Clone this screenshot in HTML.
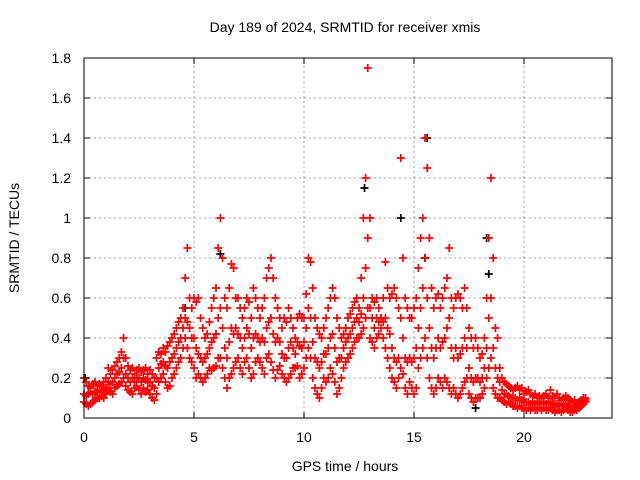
<!DOCTYPE html>
<html><head><meta charset="utf-8"><style>
body{margin:0;background:#fff}
svg{display:block;font-family:"Liberation Sans",sans-serif}
</style></head><body>
<svg id="chart" width="640" height="480">
<text x="345" y="32" text-anchor="middle" font-size="14">Day 189 of 2024, SRMTID for receiver xmis</text>
<text x="0" y="0" transform="translate(19,238) rotate(-90)" text-anchor="middle" font-size="14">SRMTID / TECUs</text>
<text x="345" y="471" text-anchor="middle" font-size="14">GPS time / hours</text>
<g id="grid"></g><g id="marks"></g><g id="axes"></g>
</svg>
<script>
const xTicks=[0,5,10,15,20];
const yTicks=[0,0.2,0.4,0.6,0.8,1,1.2,1.4,1.6,1.8];
const yTickLabels=["0","0.2","0.4","0.6","0.8","1","1.2","1.4","1.6","1.8"];
const step=0.1;
const loVals=[.08,.07,.06,.07,.08,.09,.1,.1,.11,.1,
.12,.14,.13,.12,.15,.16,.17,.18,.2,.16,
.14,.13,.12,.15,.16,.14,.12,.15,.13,.14,
.12,.1,.09,.12,.18,.2,.22,.18,.15,.16,
.2,.22,.25,.28,.3,.35,.4,.35,.3,.28,
.25,.2,.22,.2,.18,.2,.22,.25,.24,.25,
.26,.3,.3,.25,.2,.15,.2,.22,.25,.28,
.3,.25,.22,.28,.3,.25,.2,.22,.28,.3,
.28,.25,.22,.3,.32,.28,.24,.2,.24,.26,
.22,.2,.18,.2,.22,.25,.25,.26,.2,.22,
.25,.3,.35,.3,.2,.15,.12,.1,.15,.2,
.18,.2,.25,.22,.18,.12,.15,.2,.25,.28,
.3,.32,.35,.38,.4,.4,.42,.45,.5,.55,
.4,.38,.35,.4,.42,.45,.4,.35,.3,.25,
.2,.18,.15,.2,.25,.22,.15,.12,.18,.15,
.12,.15,.25,.3,.35,.4,.3,.2,.15,.12,
.15,.2,.18,.15,.2,.18,.15,.12,.15,.12,
.1,.12,.15,.18,.2,.12,.1,.08,.1,.1,
.1,.12,.15,.2,.25,.3,.15,.12,.1,.1,
.09,.08,.07,.08,.07,.06,.06,.05,.06,.05,
.05,.04,.05,.04,.05,.04,.04,.05,.04,.05,
.04,.04,.05,.04,.03,.04,.04,.03,.04,.05,
.04,.03,.03,.04,.04,.05,.06,.07,.08];
const midVals=[.12,.11,.12,.13,.12,.13,.13,.14,.13,.14,
.15,.18,.17,.18,.2,.22,.23,.25,.3,.22,
.2,.18,.2,.18,.2,.2,.18,.2,.19,.18,
.18,.16,.15,.2,.25,.27,.28,.26,.25,.28,
.3,.32,.35,.38,.4,.45,.5,.48,.45,.4,
.4,.35,.32,.3,.28,.3,.32,.35,.38,.4,
.42,.5,.55,.45,.35,.3,.38,.45,.42,.45,
.42,.4,.35,.4,.45,.42,.35,.4,.42,.4,
.38,.4,.38,.45,.48,.5,.42,.38,.4,.38,
.32,.3,.3,.35,.38,.35,.32,.38,.36,.35,
.38,.45,.55,.5,.38,.3,.28,.25,.28,.32,
.32,.35,.4,.42,.35,.28,.3,.3,.35,.38,
.4,.42,.45,.48,.5,.48,.52,.6,.75,.9,
.55,.5,.45,.5,.48,.5,.48,.5,.45,.42,
.35,.3,.28,.3,.5,.4,.3,.28,.3,.28,
.3,.35,.45,.55,.65,.8,.6,.45,.35,.3,
.35,.4,.35,.38,.4,.45,.5,.35,.3,.35,
.3,.32,.35,.4,.35,.25,.2,.18,.2,.2,
.18,.2,.25,.35,.5,.6,.35,.25,.2,.18,
.14,.12,.12,.11,.1,.1,.1,.09,.1,.09,
.08,.08,.08,.07,.08,.07,.07,.08,.07,.08,
.07,.07,.08,.07,.06,.07,.07,.06,.06,.07,
.06,.06,.05,.06,.06,.07,.08,.08,.09];
const hiVals=[.2,.18,.16,.15,.17,.18,.16,.17,.16,.18,
.2,.25,.22,.24,.26,.28,.3,.33,.4,.3,
.26,.24,.25,.22,.24,.25,.23,.24,.25,.22,
.24,.22,.2,.3,.33,.32,.35,.33,.36,.38,
.4,.42,.45,.48,.5,.55,.7,.85,.6,.55,
.6,.58,.6,.5,.45,.4,.42,.48,.55,.6,
.65,.85,1.0,.8,.6,.55,.65,.77,.75,.6,
.6,.55,.5,.55,.6,.58,.5,.65,.6,.55,
.5,.55,.6,.7,.75,.8,.7,.6,.55,.5,
.45,.5,.48,.55,.5,.45,.4,.5,.52,.5,
.5,.62,.8,.78,.65,.5,.45,.42,.4,.45,
.5,.55,.6,.65,.6,.5,.45,.4,.42,.45,
.5,.52,.55,.58,.6,.55,.7,1.0,1.2,1.75,
1.0,.6,.58,.6,.55,.5,.6,.78,.65,.6,
.62,.65,.6,.55,1.3,.8,.6,.55,.5,.5,
.55,.6,.75,.9,1.0,1.4,1.25,.9,.65,.55,
.6,.62,.55,.6,.65,.7,.85,.6,.55,.6,
.62,.6,.55,.65,.55,.45,.4,.35,.4,.35,
.3,.32,.4,.6,.9,1.2,.8,.45,.4,.25,
.2,.18,.17,.16,.15,.14,.15,.16,.14,.15,
.12,.13,.14,.12,.11,.12,.1,.11,.1,.11,
.12,.1,.14,.11,.1,.12,.1,.09,.1,.11,
.1,.09,.08,.09,.07,.08,.09,.1,.1];
const blackTimes=[0.05,4.6,6.2,12.75,14.4,15.6,15.5,18.3,18.4,17.8];
const blackVals=[0.2,0.55,0.82,1.15,1.0,1.4,0.8,0.9,0.72,0.05];

const X0=84,X1=612,Y0=418,Y1=58;
const xs=t=>X0+(t/24)*(X1-X0);
const ys=v=>Y0-(v/1.8)*(Y0-Y1);
const NS="http://www.w3.org/2000/svg";
function mk(tag,attrs,parent){const e=document.createElementNS(NS,tag);for(const k in attrs)e.setAttribute(k,attrs[k]);parent.appendChild(e);return e;}
const grid=document.getElementById('grid'),marks=document.getElementById('marks'),axes=document.getElementById('axes');
xTicks.forEach((t,i)=>{
 const x=xs(t);
 if(t>0){const g=mk('line',{x1:x,y1:Y0,x2:x,y2:Y1,stroke:'#a0a0a0','stroke-dasharray':'2,3'},grid);
 
 }
 const l=mk('text',{x:x,y:Y0+24,'text-anchor':'middle','font-size':'14'},axes);l.textContent=String(t);
 
 
 mk('line',{x1:x,y1:Y0,x2:x,y2:Y0-6,stroke:'#000'},axes);
 mk('line',{x1:x,y1:Y1,x2:x,y2:Y1+6,stroke:'#000'},axes);
});
yTicks.forEach((v,i)=>{
 const y=ys(v);
 if(v>0&&v<1.8){const g=mk('line',{x1:X0,y1:y,x2:X1,y2:y,stroke:'#a0a0a0','stroke-dasharray':'2,3'},grid);
 
 }
 const l=mk('text',{x:X0-13,y:y+5,'text-anchor':'end','font-size':'14'},axes);l.textContent=yTickLabels[i];
 
 
 mk('line',{x1:X0,y1:y,x2:X0+6,y2:y,stroke:'#000'},axes);
 mk('line',{x1:X1,y1:y,x2:X1-6,y2:y,stroke:'#000'},axes);
});
const box=mk('rect',{x:X0,y:Y1,width:X1-X0,height:Y0-Y1,fill:'none',stroke:'#000'},axes);


function cross(x,y,c){const p=mk('path',{d:`M${x-4},${y}h8M${x},${y-4}v8`,stroke:c,'stroke-width':'1.7','fill':'none'},marks);return p;}
blackTimes.forEach((t,i)=>{const p=cross(xs(t),ys(blackVals[i]),'#000');
 
 });
[loVals,midVals,hiVals].forEach(arr=>{
 arr.forEach((v,i)=>{const p=cross(xs(i*step),ys(v),'#ff0000');
 
 });
});
</script>
</body></html>
